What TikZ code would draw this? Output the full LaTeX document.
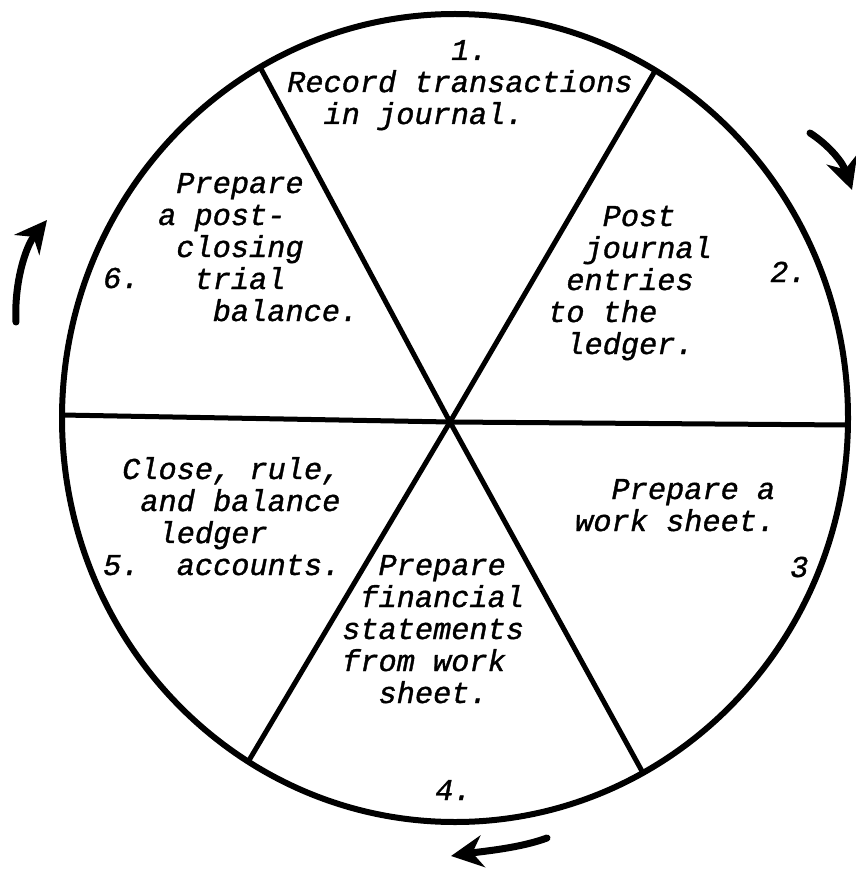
\documentclass[tikz,border=0pt]{standalone}
\usepackage{fontspec}
\setmonofont{Liberation Mono}[ItalicFeatures={FakeBold=1.2}]
\usetikzlibrary{arrows.meta}

\tikzset{
  steptext/.style={font={\ttfamily\itshape\fontsize{30.3}{32}\selectfont}, align=left, inner sep=0pt, anchor=base west},
  stepnum/.style={font={\ttfamily\itshape\fontsize{30.3}{32}\selectfont}, inner sep=0pt, anchor=base west},
  rim/.style={line width=6pt},
  spoke/.style={line width=5pt},
  turn/.style={line width=7pt, line cap=round, -{Stealth[length=32pt,width=32pt]}},
}

\begin{document}
\begin{tikzpicture}[x=1pt, y=-1pt]
\useasboundingbox (0,0) rectangle (855,877);

% the wheel and its six spokes
\draw[rim] (455,418) ellipse [x radius=393, y radius=404];
\coordinate (hub) at (450,422);
\coordinate (r1) at (260,67);
\coordinate (r2) at (655,71);
\coordinate (r3) at (848,425);
\coordinate (r4) at (643,773);
\coordinate (r5) at (248,762);
\coordinate (r6) at (62,415);
\foreach \i in {1,...,6}
  \draw[spoke] (hub) -- (r\i);

% steps of the cycle (base = last line)
\node[stepnum] (num1) at (451,60) {1.};
\node[steptext] (step1) at (287,124) {Record transactions\\~~in journal.};
\node[steptext] (step2) at (548,354) {~~~Post\\~~journal\\~entries\\to the\\~ledger.};
\node[stepnum] (num2) at (770,282) {2.};
\node[steptext] (step3) at (575,531) {~~Prepare a\\work sheet.};
\node[stepnum] (num3) at (790,577) {3};
\node[steptext] (step4) at (342,703) {~~Prepare\\~financial\\statements\\from work\\~~sheet.};
\node[stepnum] (num4) at (435,800) {4.};
\node[steptext] (step5) at (122,575) {Close, rule,\\~and balance\\~~ledger\\~~~accounts.};
\node[stepnum] (num5) at (103,575) {5.};
\node[steptext] (step6) at (158,321) {~Prepare\\a post-\\~closing\\~~trial\\~~~balance.};
\node[stepnum] (num6) at (103,288) {6.};

% direction arrows
\coordinate (trA) at (810,133);
\coordinate (trB) at (852,190);
\draw[turn] (trA) .. controls (830,146) and (843,163) .. (trB);
\coordinate (lfA) at (16,322);
\coordinate (lfB) at (47,220);
\draw[turn] (lfA) .. controls (14,282) and (26,246) .. (lfB);
\coordinate (btA) at (547,838);
\coordinate (btB) at (451,856);
\draw[turn] (btA) .. controls (520,848) and (485,851) .. (btB);
\end{tikzpicture}
\end{document}
